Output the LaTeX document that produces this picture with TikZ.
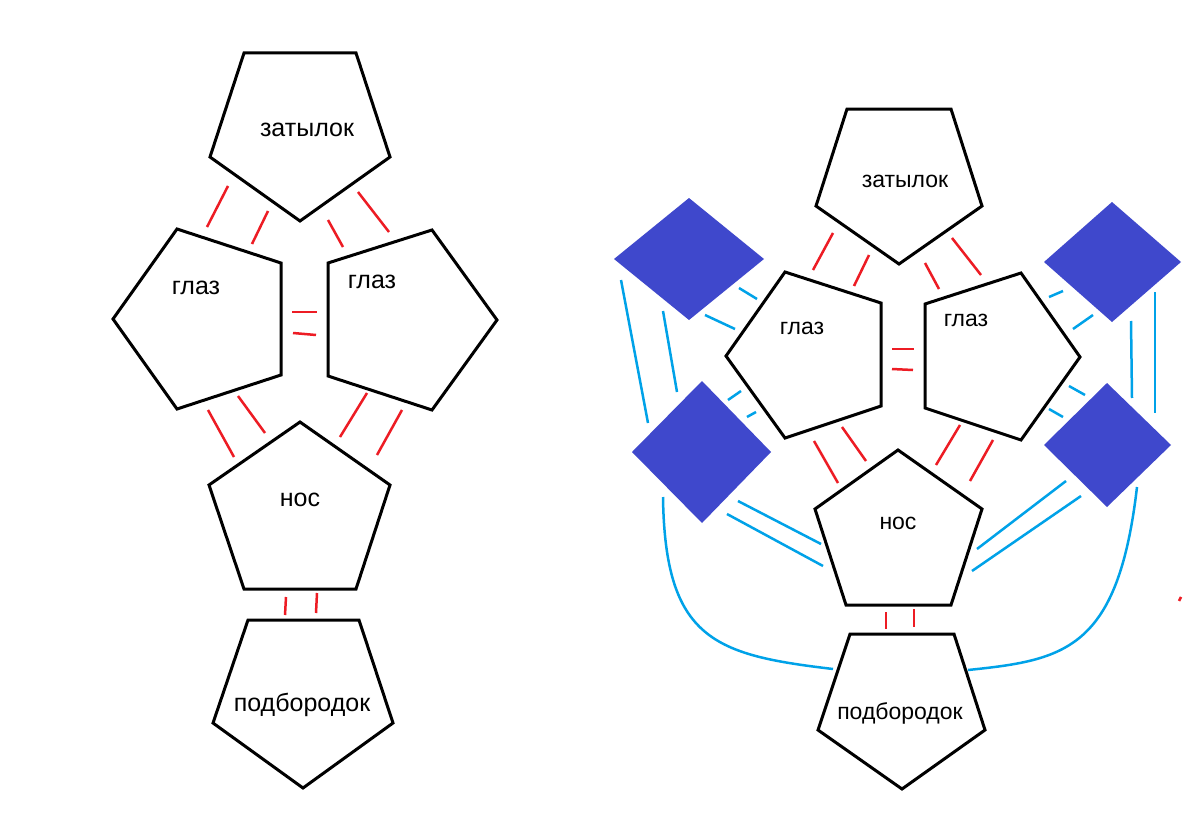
\documentclass[tikz,border=0pt]{standalone}
\usepackage{fontspec}
\setmainfont{Liberation Sans}
\definecolor{pred}{HTML}{ED1C24}
\definecolor{pblue}{HTML}{00A2E8}
\definecolor{pindigo}{HTML}{3F48CC}
\begin{document}
\begin{tikzpicture}[x=1pt,y=-1pt,
  shapeline/.style={draw=black,line width=3pt,line join=miter},
  redl/.style={draw=pred,line width=2.5pt},
  bluel/.style={draw=pblue,line width=2.5pt},
  dia/.style={fill=pindigo,draw=none},
  bigtxt/.style={font=\fontsize{25}{30}\selectfont,inner sep=0pt},
  smtxt/.style={font=\fontsize{23}{28}\selectfont,inner sep=0pt}]
\useasboundingbox[fill=white] (0,0) rectangle (1200,816);
% ---------- left figure ----------
\draw[shapeline] (244,53) -- (356,53) -- (390,157) -- (300,221) -- (210,157) -- cycle;
\draw[shapeline] (177,229) -- (281,263) -- (281,375) -- (177,409) -- (113,319) -- cycle;
\draw[shapeline] (432,230) -- (497,320) -- (432,410) -- (328,376) -- (328,263) -- cycle;
\draw[shapeline] (300,422) -- (390,485) -- (356,589) -- (244,589) -- (209,485) -- cycle;
\draw[shapeline] (248,620) -- (359,620) -- (393,723) -- (303,788) -- (213,723) -- cycle;
\node[bigtxt] (zL) at (307,130) {затылок};
\node[bigtxt] (gL1) at (196,288) {глаз};
\node[bigtxt] (gL2) at (372,282) {глаз};
\node[bigtxt] (nL) at (300,500) {нос};
\node[bigtxt] (pL) at (302,705) {подбородок};
\draw[redl] (228,186) -- (207,227);
\draw[redl] (268,211) -- (252,244);
\draw[redl] (328,220) -- (343,247);
\draw[redl] (358,192) -- (389,232);
\draw[redl] (292,312) -- (317,312);
\draw[redl] (293,333) -- (316,335);
\draw[redl] (208,410) -- (234,457);
\draw[redl] (238,396) -- (265,433);
\draw[redl] (367,393) -- (340,437);
\draw[redl] (402,410) -- (377,455);
\draw[redl] (286,597) -- (285,615);
\draw[redl] (317,593) -- (316,613);
% ---------- right figure ----------
\fill[dia] (614,259) -- (689,198) -- (764,259) -- (689,320) -- cycle;
\fill[dia] (632,452) -- (702,381) -- (771,452) -- (702,523) -- cycle;
\fill[dia] (1044,262) -- (1112,202) -- (1181,262) -- (1112,322) -- cycle;
\fill[dia] (1044,445) -- (1107,383) -- (1171,445) -- (1107,507) -- cycle;
\draw[shapeline] (847,109) -- (951,109) -- (982,206) -- (899,264) -- (816,206) -- cycle;
\draw[shapeline] (785,272) -- (881,303) -- (881,406) -- (785,438) -- (726,356) -- cycle;
\draw[shapeline] (1021,273) -- (1080,357) -- (1021,440) -- (925,408) -- (925,304) -- cycle;
\draw[shapeline] (898,450) -- (982,509) -- (951,605) -- (846,605) -- (815,509) -- cycle;
\draw[shapeline] (850,634) -- (954,634) -- (985,730) -- (902,789) -- (818,730) -- cycle;
\node[smtxt] (zR) at (905,181) {затылок};
\node[smtxt] (gR1) at (802,328) {глаз};
\node[smtxt] (gR2) at (966,320) {глаз};
\node[smtxt] (nR) at (898,523) {нос};
\node[smtxt] (pR) at (900,713) {подбородок};
\draw[redl] (833,233) -- (813,270);
\draw[redl] (869,255) -- (854,286);
\draw[redl] (925,263) -- (939,289);
\draw[redl] (952,238) -- (981,275);
\draw[redl] (892,349) -- (914,349);
\draw[redl] (892,369) -- (913,370);
\draw[redl] (814,441) -- (838,483);
\draw[redl] (842,427) -- (866,461);
\draw[redl] (960,425) -- (936,465);
\draw[redl] (993,440) -- (970,481);
\draw[redl] (886,612) -- (886,629);
\draw[redl] (914,609) -- (914,627);
\draw[redl] (1179,601) -- (1181,597);
% blue, left side
\draw[bluel] (739,288) -- (757,299);
\draw[bluel] (705,315) -- (735,329);
\draw[bluel] (621,280) -- (648,423);
\draw[bluel] (663,311) -- (677,392);
\draw[bluel] (728,400) -- (741,391);
\draw[bluel] (747,417) -- (756,412);
\draw[bluel] (738,501) -- (821,544);
\draw[bluel] (727,514) -- (823,566);
\draw[bluel] (663,497) .. controls (665,640) and (715,655) .. (833,669);
% blue, right side
\draw[bluel] (1049,297) -- (1063,291);
\draw[bluel] (1073,329) -- (1093,315);
\draw[bluel] (1131,321) -- (1132,398);
\draw[bluel] (1155,292) -- (1155,413);
\draw[bluel] (1069,386) -- (1085,395);
\draw[bluel] (1049,409) -- (1063,417);
\draw[bluel] (1066,481) -- (977,549);
\draw[bluel] (1081,496) -- (972,571);
\draw[bluel] (1137,487) .. controls (1118,650) and (1065,660) .. (968,670);
\end{tikzpicture}
\end{document}
